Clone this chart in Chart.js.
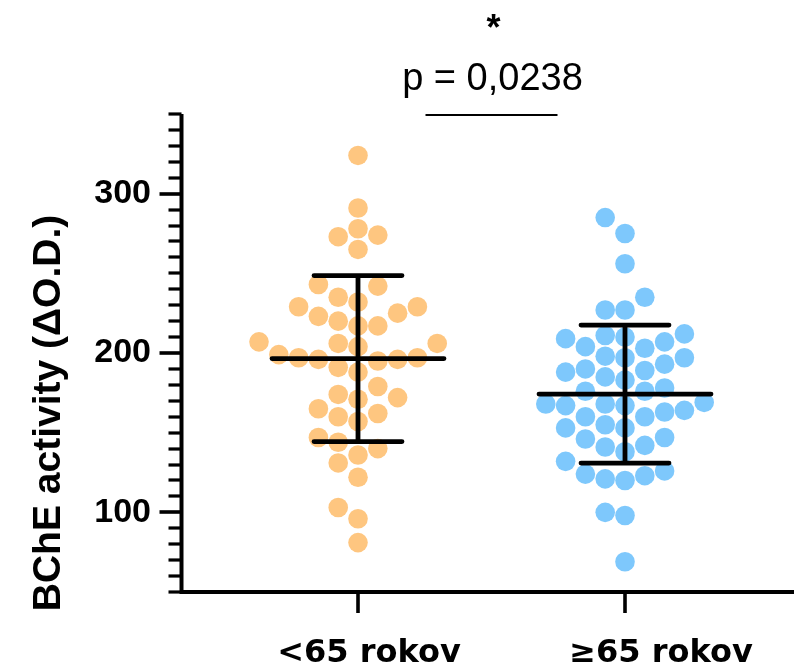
<!DOCTYPE html>
<html>
<head>
<meta charset="utf-8">
<script src="https://cdn.jsdelivr.net/npm/chart.js@4.4.0/dist/chart.umd.min.js"></script>
<style>
  html, body { margin: 0; padding: 0; background: #ffffff; }
  canvas { display: block; }
</style>
</head>
<body>
<canvas id="chart" width="794" height="670"></canvas>
<script>
// Groups and individual BChE activity values (ΔO.D.)
const groups = ['<65 rokov', '≥65 rokov'];
const under65 = [324, 291, 278, 274, 273, 265, 243, 242, 235, 232, 229, 229, 225, 223, 220, 217, 217,
                 207, 206, 206, 204, 199, 197, 197, 196, 196, 195, 191, 188, 179, 174, 172, 171, 165,
                 162, 160, 157, 147, 144, 140, 136, 131, 122, 103, 96, 81];
const over65 = [285, 275, 256, 235, 227, 227, 212, 211, 210, 209, 207, 204, 203, 198, 197, 197, 193,
                190, 189, 188, 185, 183, 178, 176, 176, 169, 168, 168, 167, 167, 164, 163, 160, 160,
                155, 153, 153, 147, 146, 142, 141, 138, 132, 126, 124, 123, 121, 120, 100, 98, 69];
const yTickLabels = [100, 200, 300];
const yTitle = 'BChE activity (ΔO.D.)';
const pText = 'p = 0,0238';
const sigText = '*';

const series = [under65, over65];
const dotColors = ['#FEC680', '#7EC8FC'];

const DOT_R = 9.8;        // dot radius, px
const COL_GAP = 19.8;     // horizontal step between swarm columns, px
const MEAN_HALF = 86;     // half length of the mean bar, px
const SD_HALF = 44;       // half length of the SD caps, px

const FONT_HELV = '"Liberation Sans", Arial, Helvetica, sans-serif';
const FONT_CAT = '"DejaVu Sans", Verdana, sans-serif';

function meanSd(a) {
  const m = a.reduce((s, v) => s + v, 0) / a.length;
  const sd = Math.sqrt(a.reduce((s, v) => s + (v - m) * (v - m), 0) / (a.length - 1));
  return { m, sd };
}

// Mean ± SD bars over the dots
const errorBars = {
  id: 'errorBars',
  afterDatasetsDraw(chart) {
    const { ctx, scales: { x, y } } = chart;
    ctx.save();
    ctx.strokeStyle = '#000';
    ctx.lineWidth = 4.8;
    ctx.lineCap = 'round';
    series.forEach((vals, g) => {
      const { m, sd } = meanSd(vals);
      const cx = Math.round(x.getPixelForValue(g + 1));
      const ym = y.getPixelForValue(m);
      const yh = y.getPixelForValue(m + sd);
      const yl = y.getPixelForValue(m - sd);
      ctx.beginPath();
      ctx.moveTo(cx, yh); ctx.lineTo(cx, yl);
      ctx.moveTo(cx - SD_HALF, yh); ctx.lineTo(cx + SD_HALF, yh);
      ctx.moveTo(cx - SD_HALF, yl); ctx.lineTo(cx + SD_HALF, yl);
      ctx.moveTo(cx - MEAN_HALF, ym); ctx.lineTo(cx + MEAN_HALF, ym);
      ctx.stroke();
    });
    ctx.restore();
  }
};

// Axis lines, major/minor ticks, category labels, axis title and the significance bracket
const frame = {
  id: 'frame',
  afterDraw(chart) {
    const { ctx, chartArea: area, scales: { x, y } } = chart;
    ctx.save();
    ctx.strokeStyle = '#000';
    ctx.fillStyle = '#000';
    ctx.lineCap = 'butt';
    const left = Math.round(area.left) + 0.5;
    const bottom = Math.round(area.bottom);

    // axis lines
    ctx.lineWidth = 4;
    ctx.beginPath();
    ctx.moveTo(left, area.top);
    ctx.lineTo(left, bottom + 2);
    ctx.moveTo(left - 2, bottom);
    ctx.lineTo(chart.width, bottom);
    ctx.stroke();

    // y ticks: long at labelled values, short every 10
    y.ticks.forEach(t => {
      const py = Math.round(y.getPixelForValue(t.value));
      const major = yTickLabels.includes(t.value);
      ctx.lineWidth = major ? 3.6 : 3.2;
      ctx.beginPath();
      ctx.moveTo(left, py);
      ctx.lineTo(left - (major ? 22 : 13), py);
      ctx.stroke();
    });

    // x ticks and group labels
    const labelShift = [11, 36];
    ctx.lineWidth = 3.6;
    ctx.font = 'bold 32px ' + FONT_CAT;
    ctx.textAlign = 'center';
    ctx.textBaseline = 'alphabetic';
    groups.forEach((name, g) => {
      const px = Math.round(x.getPixelForValue(g + 1));
      ctx.beginPath();
      ctx.moveTo(px, bottom);
      ctx.lineTo(px, bottom + 21);
      ctx.stroke();
      ctx.fillText(name, px + labelShift[g], 662);
    });

    // y axis title
    ctx.save();
    ctx.translate(60, 413);
    ctx.rotate(-Math.PI / 2);
    ctx.font = 'bold 39px ' + FONT_HELV;
    ctx.textAlign = 'center';
    ctx.fillText(yTitle, 0, 0);
    ctx.restore();

    // significance bracket between the groups
    const mid = (x.getPixelForValue(1) + x.getPixelForValue(2)) / 2;
    ctx.lineWidth = 2;
    ctx.beginPath();
    ctx.moveTo(mid - 66, 115);
    ctx.lineTo(mid + 66, 115);
    ctx.stroke();
    ctx.textAlign = 'center';
    ctx.font = '38px ' + FONT_HELV;
    ctx.fillText(pText, mid + 1, 90);
    ctx.font = 'bold 36px ' + FONT_HELV;
    ctx.fillText(sigText, mid + 2, 40);

    ctx.restore();
  }
};

const chart = new Chart(document.getElementById('chart'), {
  type: 'scatter',
  data: {
    datasets: series.map((vals, g) => ({
      label: groups[g],
      data: vals.map(v => ({ x: g + 1, y: v })),
      backgroundColor: dotColors[g],
      borderWidth: 0,
      pointRadius: DOT_R,
      pointHoverRadius: DOT_R,
      clip: false
    }))
  },
  options: {
    responsive: false,
    animation: false,
    events: [],
    devicePixelRatio: 1,
    layout: { autoPadding: false, padding: { top: 114, right: 0, bottom: 78, left: 0 } },
    plugins: {
      legend: { display: false },
      tooltip: { enabled: false }
    },
    scales: {
      x: {
        type: 'linear',
        display: false,
        min: 0.337,
        max: 2.633
      },
      y: {
        type: 'linear',
        min: 50,
        max: 350,
        afterFit(scale) { scale.width = 181; },
        grid: { display: false, drawTicks: false, tickLength: 0 },
        border: { display: false },
        ticks: {
          stepSize: 10,
          autoSkip: false,
          padding: 30,
          color: '#000',
          font: { family: FONT_HELV, size: 34, weight: 'bold' },
          callback: v => (yTickLabels.includes(v) ? String(v) : '')
        }
      }
    }
  },
  plugins: [errorBars, frame]
});

// Swarm layout: each dot goes to the nearest column (0, -1, +1, -2, ...) where it does not overlap
function layoutSwarm(ch) {
  const xs = ch.scales.x, ys = ch.scales.y;
  series.forEach((vals, g) => {
    const cx = xs.getPixelForValue(g + 1);
    const cols = new Map();
    const pts = ch.data.datasets[g].data;
    const order = vals.map((_, i) => i).sort((a, b) => vals[a] - vals[b]);
    order.forEach(i => {
      const py = ys.getPixelForValue(vals[i]);
      for (let k = 0; ; k++) {
        const c = k === 0 ? 0 : (k % 2 ? -(k + 1) / 2 : k / 2);
        const col = cols.get(c) || [];
        if (col.every(q => Math.abs(q - py) >= 2 * DOT_R - 0.2)) {
          col.push(py);
          cols.set(c, col);
          pts[i].x = xs.getValueForPixel(cx + c * COL_GAP);
          break;
        }
      }
    });
  });
  ch.update('none');
}
layoutSwarm(chart);
</script>
</body>
</html>
